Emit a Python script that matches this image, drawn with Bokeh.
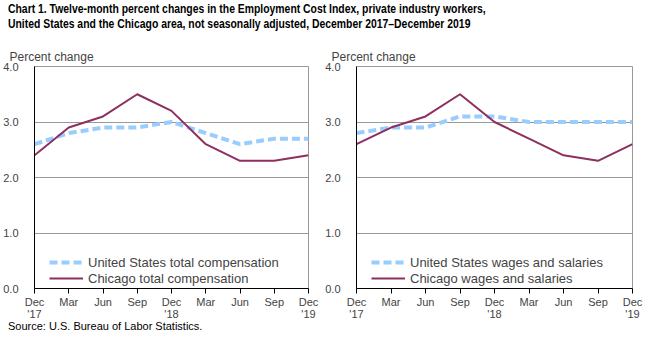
from bokeh.plotting import figure
from bokeh.models import Div, FixedTicker, Legend, LegendItem
from bokeh.layouts import column, row
from bokeh.embed import file_html
from bokeh.resources import INLINE

quarters = ["Dec\n'17", "Mar", "Jun", "Sep", "Dec\n'18", "Mar", "Jun", "Sep", "Dec\n'19"]
us_total = [2.6, 2.8, 2.9, 2.9, 3.0, 2.8, 2.6, 2.7, 2.7]
chi_total = [2.4, 2.9, 3.1, 3.5, 3.2, 2.6, 2.3, 2.3, 2.4]
us_wages = [2.8, 2.9, 2.9, 3.1, 3.1, 3.0, 3.0, 3.0, 3.0]
chi_wages = [2.6, 2.9, 3.1, 3.5, 3.0, 2.7, 2.4, 2.3, 2.6]
y_ticks = [0.0, 1.0, 2.0, 3.0, 4.0]

title_line1 = "Chart 1. Twelve-month percent changes in the Employment Cost  Index, private industry  workers,"
title_line2 = "United States and the Chicago area, not seasonally adjusted, December 2017\u2013December 2019"
source_text = "Source: U.S. Bureau of Labor Statistics."

FONT = "Liberation Sans"
US_COLOR = "#99CCFF"
CHI_COLOR = "#8E2F5E"


def make_panel(us, chi, us_label, chi_label, width, bl, br):
    xs = list(range(len(quarters)))
    p = figure(width=width, height=284, x_range=(0, len(quarters) - 1), y_range=(0, 4),
               output_backend="svg", toolbar_location=None,
               min_border_left=bl, min_border_right=br, min_border_top=28, min_border_bottom=34,
               title="Percent change")
    p.title.text_font = FONT
    p.title.text_font_size = "12px"
    p.title.text_font_style = "normal"
    p.title.align = "left"
    p.title.offset = -25
    p.title.standoff = 6
    p.outline_line_color = "#999999"
    p.background_fill_color = "white"
    p.border_fill_color = "white"

    p.xgrid.grid_line_color = None
    p.ygrid.grid_line_color = "#999999"
    p.ygrid.ticker = FixedTicker(ticks=y_ticks)

    p.yaxis.ticker = FixedTicker(ticks=y_ticks)
    p.yaxis.major_label_overrides = {t: f"{t:.1f}" for t in y_ticks}
    p.yaxis.major_tick_line_color = None
    p.yaxis.minor_tick_line_color = None
    p.yaxis.axis_line_color = "black"
    p.yaxis.major_label_text_font = FONT
    p.yaxis.major_label_text_font_size = "11px"
    p.yaxis.major_label_standoff = 10

    p.xaxis.ticker = FixedTicker(ticks=xs)
    p.xaxis.major_label_overrides = {i: q for i, q in enumerate(quarters)}
    p.xaxis.major_tick_in = 0
    p.xaxis.major_tick_out = 5
    p.xaxis.minor_tick_line_color = None
    p.xaxis.axis_line_color = "black"
    p.xaxis.major_tick_line_color = "black"
    p.xaxis.major_label_text_font = FONT
    p.xaxis.major_label_text_font_size = "11px"
    p.xaxis.major_label_text_line_height = 1.0
    p.xaxis.major_label_standoff = 2

    r_us = p.line(xs, us, line_color=US_COLOR, line_width=4, line_dash="8 4")
    r_chi = p.line(xs, chi, line_color=CHI_COLOR, line_width=2)

    legend = Legend(items=[LegendItem(label=us_label, renderers=[r_us]),
                           LegendItem(label=chi_label, renderers=[r_chi])],
                    location=(15, 2), border_line_color=None, background_fill_alpha=0,
                    label_text_font=FONT, label_text_font_size="13px",
                    glyph_width=34, glyph_height=16, label_height=16, spacing=0,
                    padding=0, margin=0, label_standoff=5)
    p.add_layout(legend, "center")
    return p


p1 = make_panel(us_total, chi_total, "United States total compensation",
                "Chicago total compensation", 322, 33, 14)
p2 = make_panel(us_wages, chi_wages, "United States wages and salaries",
                "Chicago wages and salaries", 331, 34, 21)

line_style = ('position:absolute; left:8px; white-space:nowrap; '
              'transform:scaleX(0.80); transform-origin:0 0; '
              'font-family:\'Liberation Sans\', Arial, sans-serif; font-weight:bold; '
              'font-size:13px; line-height:15px; color:black;')
title_html = ('<div style="' + line_style + ' top:1px;">' + title_line1 + '</div>'
              '<div style="' + line_style + ' top:16px;">' + title_line2 + '</div>')
title_div = Div(text=title_html, width=653, height=38, margin=0, styles={"position": "relative"})
source_div = Div(text='<div style="position:absolute; left:8px; top:-2px; white-space:nowrap; '
                      'font-family:\'Liberation Sans\', Arial, sans-serif; font-size:11px; '
                      'line-height:12px; color:black;">' + source_text + '</div>',
                 width=653, height=14, margin=0, styles={"position": "relative"})

layout = column(title_div, row(p1, p2), source_div)
open("out.html", "w").write(file_html(layout, INLINE))
